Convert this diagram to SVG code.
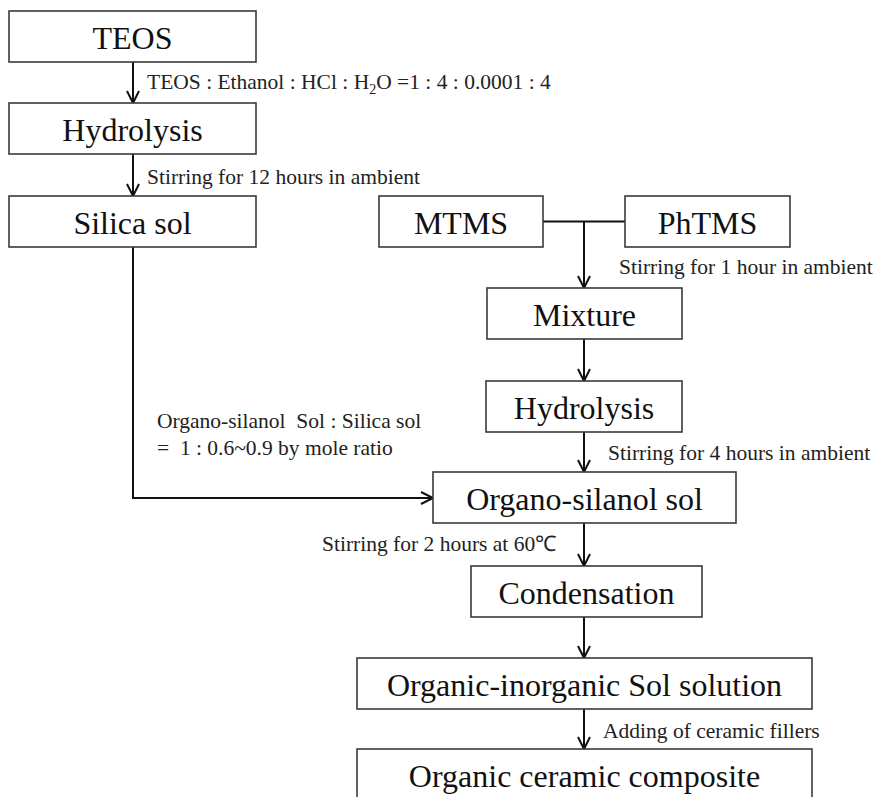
<svg xmlns="http://www.w3.org/2000/svg" width="875" height="797" viewBox="0 0 875 797">
<defs>
<style>
.box{fill:#fff;stroke:#3a3a3a;stroke-width:1.6}
.bt{font-family:"Liberation Serif","Times New Roman",serif;font-size:32px;fill:#111;text-anchor:middle}
.lb{font-family:"Liberation Serif","Times New Roman",serif;font-size:21.5px;fill:#222}
.ln{fill:none;stroke:#111;stroke-width:2}
.ar{fill:none;stroke:#111;stroke-width:2;marker-end:url(#ah)}
</style>
<marker id="ah" markerUnits="userSpaceOnUse" markerWidth="16" markerHeight="16" refX="13" refY="7" orient="auto" viewBox="0 0 16 14">
<path d="M1,1 L13,7 L1,13" fill="none" stroke="#111" stroke-width="2"/>
</marker>
</defs>
<rect width="875" height="797" fill="#fff"/>

<g id="connectors">
<line class="ar" x1="133" y1="62" x2="133" y2="103"/>
<line class="ar" x1="133" y1="154" x2="133" y2="196"/>
<polyline class="ar" points="133,247 133,498 433,498"/>
<line class="ln" x1="543" y1="221.5" x2="625" y2="221.5"/>
<line class="ar" x1="584" y1="221.5" x2="584" y2="288"/>
<line class="ar" x1="584" y1="339" x2="584" y2="381"/>
<line class="ar" x1="584" y1="432" x2="584" y2="472"/>
<line class="ar" x1="584" y1="523" x2="584" y2="566"/>
<line class="ar" x1="584" y1="617" x2="584" y2="658"/>
<line class="ar" x1="584" y1="709" x2="584" y2="749"/>
</g>

<g id="labels">
<text class="lb" x="147" y="89">TEOS : Ethanol : HCl : H<tspan font-size="14" dy="5">2</tspan><tspan dy="-5">O =1 : 4 : 0.0001 : 4</tspan></text>
<text class="lb" x="147" y="184">Stirring for 12 hours in ambient</text>
<text class="lb" x="619" y="274">Stirring for 1 hour in ambient</text>
<text class="lb" x="608" y="460">Stirring for 4 hours in ambient</text>
<text class="lb" x="157" y="428" xml:space="preserve">Organo-silanol  Sol : Silica sol</text>
<text class="lb" x="157" y="455" xml:space="preserve">=  1 : 0.6~0.9 by mole ratio</text>
<text class="lb" x="322" y="551">Stirring for 2 hours at 60℃</text>
<text class="lb" x="603" y="738">Adding of ceramic fillers</text>
</g>

<g id="node-teos"><rect class="box" x="9" y="11" width="247" height="51"/><text class="bt" x="132.5" y="48.5">TEOS</text></g>
<g id="node-hydrolysis1"><rect class="box" x="9" y="103" width="247" height="51"/><text class="bt" x="132.5" y="140.5">Hydrolysis</text></g>
<g id="node-silica-sol"><rect class="box" x="9" y="196" width="247" height="51"/><text class="bt" x="132.5" y="233.5">Silica sol</text></g>
<g id="node-mtms"><rect class="box" x="379" y="196" width="164" height="51"/><text class="bt" x="461" y="233.5">MTMS</text></g>
<g id="node-phtms"><rect class="box" x="625" y="196" width="165" height="51"/><text class="bt" x="707.5" y="233.5">PhTMS</text></g>
<g id="node-mixture"><rect class="box" x="487" y="288" width="195" height="51"/><text class="bt" x="584.5" y="325.5">Mixture</text></g>
<g id="node-hydrolysis2"><rect class="box" x="486" y="381" width="196" height="51"/><text class="bt" x="584" y="418.5">Hydrolysis</text></g>
<g id="node-organo-silanol"><rect class="box" x="433" y="472" width="303" height="51"/><text class="bt" x="584.5" y="509.5">Organo-silanol sol</text></g>
<g id="node-condensation"><rect class="box" x="471" y="566" width="231" height="51"/><text class="bt" x="586.5" y="603.5">Condensation</text></g>
<g id="node-sol-solution"><rect class="box" x="357" y="658" width="455" height="51"/><text class="bt" x="584.5" y="695.5">Organic-inorganic Sol solution</text></g>
<g id="node-composite"><rect class="box" x="357" y="749" width="455" height="60"/><text class="bt" x="584.5" y="786.5">Organic ceramic composite</text></g>
</svg>
